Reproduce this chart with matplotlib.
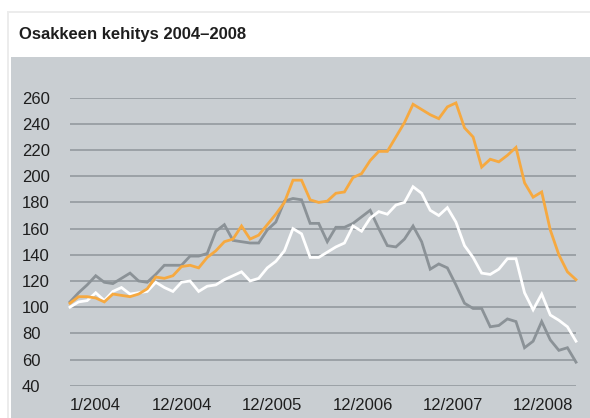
import matplotlib
matplotlib.use("Agg")
import matplotlib.pyplot as plt
from matplotlib.patches import Rectangle
import numpy as np

plt.rcParams['font.family'] = ['Liberation Sans', 'DejaVu Sans']

title = "Osakkeen kehitys 2004–2008"
x_labels = ["1/2004", "12/2004", "12/2005", "12/2006", "12/2007", "12/2008"]
y_ticks = [40, 60, 80, 100, 120, 140, 160, 180, 200, 220, 240, 260]

orange_series = [103, 108, 108, 107, 104, 110, 109, 108, 110, 114,
                 123, 122, 124, 131, 132, 130, 138, 143, 150, 152,
                 162, 152, 155, 163, 171, 180, 197, 197, 182, 180,
                 181, 187, 188, 199, 202, 212, 219, 219, 230, 241,
                 255, 251, 247, 244, 253, 256, 237, 230, 207, 213,
                 211, 216, 222, 195, 184, 188, 159, 140, 127, 121]
white_series = [100, 104, 105, 111, 105, 112, 115, 110, 111, 112,
                119, 115, 112, 119, 120, 112, 116, 117, 121, 124,
                127, 120, 122, 130, 135, 143, 160, 156, 138, 138,
                142, 146, 149, 162, 158, 168, 173, 171, 178, 180,
                192, 187, 174, 170, 176, 165, 147, 138, 126, 125,
                129, 137, 137, 111, 98, 110, 94, 90, 85, 74]
gray_series = [104, 111, 117, 124, 119, 118, 122, 126, 120, 119,
               125, 132, 132, 132, 139, 139, 141, 158, 163, 151,
               150, 149, 149, 159, 165, 181, 183, 182, 164, 164,
               150, 161, 161, 164, 169, 174, 160, 147, 146, 152,
               162, 150, 129, 133, 130, 117, 103, 99, 99, 85,
               86, 91, 89, 69, 74, 89, 75, 67, 69, 58]

W, H = 590, 418
fig = plt.figure(figsize=(W / 100, H / 100), dpi=100)
fig.patch.set_facecolor('white')

def fx(px):
    return px / W

def fy(py):
    return 1 - py / H

# card shadow + card
fig.add_artist(Rectangle((fx(7), 0), fx(590 - 7), fy(11), transform=fig.transFigure,
                         facecolor='#ececec', edgecolor='none', zorder=0))
fig.add_artist(Rectangle((fx(8.5), 0), fx(590 - 8.5), fy(12.5), transform=fig.transFigure,
                         facecolor='white', edgecolor='none', zorder=0))
# gray chart region
bg = '#c9ced2'
fig.add_artist(Rectangle((fx(11), 0), fx(590 - 11), fy(57), transform=fig.transFigure,
                         facecolor=bg, edgecolor='none', zorder=0))

fig.text(fx(19), fy(35), title, fontsize=12, fontweight='bold', color='#1e1e1e',
         ha='left', va='center')

ax_left, ax_right = 70, 576
ax_top, ax_bot = 97.7, 385.7
ax = fig.add_axes([fx(ax_left), fy(ax_bot), fx(ax_right - ax_left), (ax_bot - ax_top) / H])
ax.set_facecolor('none')

n = len(orange_series)
x = np.arange(n)
ax.set_xlim(0, n - 1)
ax.set_ylim(40, 260)

ax.set_yticks(y_ticks)
ax.yaxis.grid(True, color='#989ea3', linewidth=1.3)
ax.set_axisbelow(True)
for s in ax.spines.values():
    s.set_visible(False)

ax.plot(x, gray_series, color='#8b9297', linewidth=2.0, solid_joinstyle='miter', clip_on=False, zorder=3)
ax.plot(x, white_series, color='white', linewidth=2.0, solid_joinstyle='miter', clip_on=False, zorder=4)
ax.plot(x, orange_series, color='#f6a940', linewidth=2.0, solid_joinstyle='miter', clip_on=False, zorder=5)

tick_pos = [3.0, 13.1, 23.5, 34.2, 44.7, 55.2]
ax.set_xticks(tick_pos)
ax.set_xticklabels(x_labels)
ax.tick_params(axis='x', length=0, pad=9, labelsize=12, labelcolor='#1e1e1e')
ax.tick_params(axis='y', length=0, pad=(ax_left - 22) * 0.72, labelsize=12, labelcolor='#1e1e1e')
for lab in ax.get_yticklabels():
    lab.set_horizontalalignment('left')

fig.savefig('out.png', dpi=100, facecolor=fig.get_facecolor())
